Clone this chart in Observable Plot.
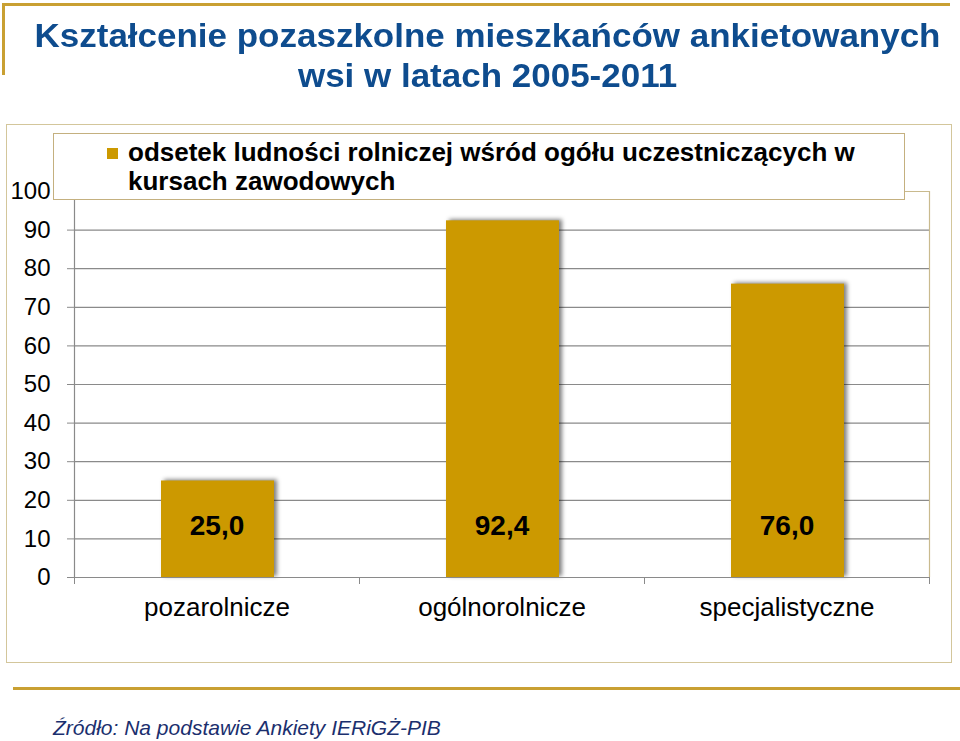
<!DOCTYPE html>
<html>
<head>
<meta charset="utf-8">
<script src="https://cdn.jsdelivr.net/npm/d3@7"></script>
<script src="https://cdn.jsdelivr.net/npm/@observablehq/plot@0.6"></script>
<style>
  html, body { margin: 0; padding: 0; background: #fff; }
  #page { position: relative; width: 960px; height: 741px; overflow: hidden; background: #fff;
          font-family: "Liberation Sans", Arial, sans-serif; }
  .abs { position: absolute; }
  #title { left: 0; top: 16px; width: 975px; text-align: center; color: #0E4C8E; font-weight: bold;
           font-size: 33px; line-height: 40px; transform: scaleX(1.06); transform-origin: 487px 0; white-space: nowrap; }
  #box { left: 6px; top: 124px; width: 946px; height: 539px; box-sizing: border-box; border: 1.5px solid #D3C69B; }
  #chart { left: 0; top: 124px; }
  #legend { left: 53px; top: 133px; width: 852px; height: 67px; box-sizing: border-box; border: 1px solid #C4B07F; background: #fff; }
  #legend .sw { position: absolute; left: 53px; top: 14px; width: 11px; height: 11px; background: #CC9900; }
  #legend .txt { position: absolute; left: 74px; top: 4px; font-weight: bold; font-size: 26px; line-height: 29px; color: #000; white-space: nowrap; }
  #source { left: 53px; top: 716px; font-style: italic; font-size: 21px; line-height: 24px; color: #1B2F6E; white-space: nowrap; }
</style>
</head>
<body>
<div id="page">
  <div class="abs" style="left:2px;top:3px;width:948px;height:2.5px;background:#C9A032"></div>
  <div class="abs" style="left:2px;top:3px;width:2.5px;height:72px;background:#C9A032"></div>
  <div id="title" class="abs"></div>
  <div id="box" class="abs"></div>
  <div id="chart" class="abs"></div>
  <div id="legend" class="abs"><div class="sw"></div><div class="txt"></div></div>
  <div class="abs" style="left:13px;top:687px;width:947px;height:3px;background:#C9A032"></div>
  <div id="source" class="abs"></div>
</div>
<script>
// ---- data ----
const titleLines = ["Kształcenie pozaszkolne mieszkańców ankietowanych", "wsi w latach 2005-2011"];
const categories = ["pozarolnicze", "ogólnorolnicze", "specjalistyczne"];
const values = [25.0, 92.4, 76.0];
const valueLabels = ["25,0", "92,4", "76,0"];
const yTicks = [0, 10, 20, 30, 40, 50, 60, 70, 80, 90, 100];
const legendLines = ["odsetek ludności rolniczej wśród ogółu uczestniczących w", "kursach zawodowych"];
const sourceText = "Źródło: Na podstawie Ankiety IERiGŻ-PIB";

// ---- texts ----
document.getElementById("title").innerHTML = titleLines.map(s => `<div>${s}</div>`).join("");
document.querySelector("#legend .txt").innerHTML = legendLines.map(s => `<div>${s}</div>`).join("");
document.getElementById("source").textContent = sourceText;

// ---- table ----
const table = categories.map((c, i) => ({category: c, i0: i, i1: i + 1, value: values[i], label: valueLabels[i]}));
const bounds = d3.range(categories.length + 1);

const gold = "#CC9900", grid = "#8A8A8A", tan = "#C9BA8E";
const font = "'Liberation Sans', Arial, sans-serif";

const chart = Plot.plot({
  width: 960,
  height: 539,
  marginLeft: 74,
  marginRight: 31,
  marginTop: 67,
  marginBottom: 86,
  style: {fontFamily: font, background: "transparent", color: "#000", overflow: "visible"},
  x: {type: "linear", domain: [0, categories.length], axis: null},
  y: {domain: [0, 100], axis: null},
  marks: [
    Plot.ruleY(yTicks.filter(t => t > 0 && t < 100), {stroke: grid, strokeWidth: 1.2}),
    Plot.ruleY([100], {stroke: tan, strokeWidth: 1.2}),
    Plot.ruleX([categories.length], {stroke: tan, strokeWidth: 1.2}),
    Plot.axisY(yTicks, {tickSize: 7, tickPadding: 17, fontSize: 24, stroke: grid, fill: "#000", label: null}),
    Plot.axisX(bounds, {anchor: "bottom", tickSize: 7, tickFormat: () => "", stroke: grid, label: null}),
    Plot.rect(table, {x1: "i0", x2: "i1", y1: d => 0, y2: "value", insetLeft: 87, insetRight: 85,
      fill: "#000", fillOpacity: 0.5, dx: 3, dy: -1, ariaLabel: "bar-shadow"}),
    Plot.rect(table, {x1: "i0", x2: "i1", y1: d => 0, y2: "value", insetLeft: 87, insetRight: 85, fill: gold}),
    Plot.ruleX([0], {stroke: grid, strokeWidth: 1.2}),
    Plot.ruleY([0], {stroke: grid, strokeWidth: 1.2}),
    Plot.text(table, {x: d => d.i0 + 0.5, y: d => 0, text: "label", dy: -51, fontSize: 28, fontWeight: "bold", fill: "#000"}),
    Plot.text(table, {x: d => d.i0 + 0.5, y: d => 0, text: "category", dy: 30, fontSize: 26, fill: "#000"})
  ]
});

const svg = d3.select(chart);
const defs = svg.insert("defs", ":first-child");
defs.append("filter").attr("id", "barshadow").attr("x", "-20%").attr("y", "-20%").attr("width", "140%").attr("height", "140%")
  .append("feGaussianBlur").attr("stdDeviation", 2.2);
let sh = chart.querySelector('g[aria-label="bar-shadow"]') || chart.querySelector('g[aria-label="rect"]');
if (sh) sh.setAttribute("filter", "url(#barshadow)");

document.getElementById("chart").appendChild(chart);
</script>
</body>
</html>
